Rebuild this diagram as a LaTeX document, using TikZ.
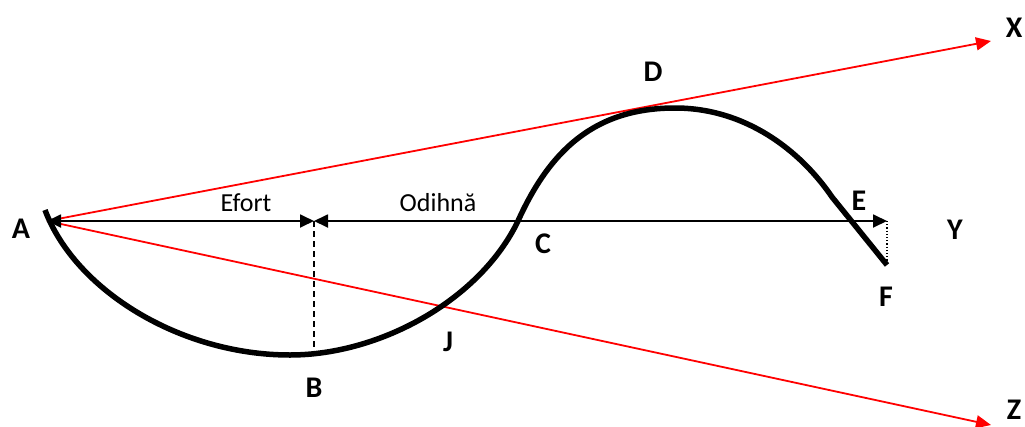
\documentclass[tikz,border=0pt]{standalone}
\usepackage{fontspec}
\setmainfont{Carlito}
\usetikzlibrary{arrows.meta}

\begin{document}
\begin{tikzpicture}[x=1pt, y=-1pt, lbl/.style={font=\fontsize{30}{36}\selectfont\bfseries, inner sep=0pt}, txt/.style={font=\fontsize{26}{31}\selectfont, inner sep=0pt, anchor=base}, curve/.style={line width=5.5pt}, dim/.style={line width=1.8pt, {Triangle[length=14pt,width=13pt]}-{Triangle[length=14pt,width=13pt]}}, ray/.style={red, line width=1.8pt, -{Triangle[length=15pt,width=13pt]}}]
\useasboundingbox (0,0) rectangle (1025,426);
\coordinate (start) at (45,210);
\coordinate (o) at (47,221);
\coordinate (bottom) at (290,355);
\coordinate (cross) at (518,221);
\coordinate (top) at (675,108);
\coordinate (kink) at (832,197);
\coordinate (end) at (887,265);
\coordinate (split) at (314,221);
\coordinate (splitlow) at (314,352);
\coordinate (stop) at (887,221);
\coordinate (xtip) at (991,41);
\coordinate (ztip) at (991,425);
\draw[ray] (o) -- (xtip);
\draw[ray] (o) -- (ztip);
\draw[curve] (start) .. controls (75,290) and (180,355) .. (bottom) .. controls (380,355) and (480,300) .. (cross) .. controls (550,150) and (595,108) .. (top) .. controls (745,108) and (800,150) .. (kink) -- (end);
\draw[dim] (o) -- (split);
\draw[dim] (split) -- (stop);
\draw[line width=1.5pt, dash pattern=on 6pt off 4pt] (split) -- (splitlow);
\draw[line width=1.2pt, dotted] (stop) -- (end);
\node[txt] (efort) at (246,211) {Efort};
\node[txt] (odihna) at (438,211) {Odihnă};
\node[lbl] (a) at (21,229) {A};
\node[lbl] (b) at (314,388) {B};
\node[lbl] (c) at (543,244) {C};
\node[lbl] (d) at (653,72) {D};
\node[lbl] (e) at (859,201) {E};
\node[lbl] (f) at (886,297) {F};
\node[lbl] (j) at (448,342) {J};
\node[lbl] (x) at (1014,28) {X};
\node[lbl] (y) at (955,230) {Y};
\node[lbl] (z) at (1014,410) {Z};
\end{tikzpicture}
\end{document}
